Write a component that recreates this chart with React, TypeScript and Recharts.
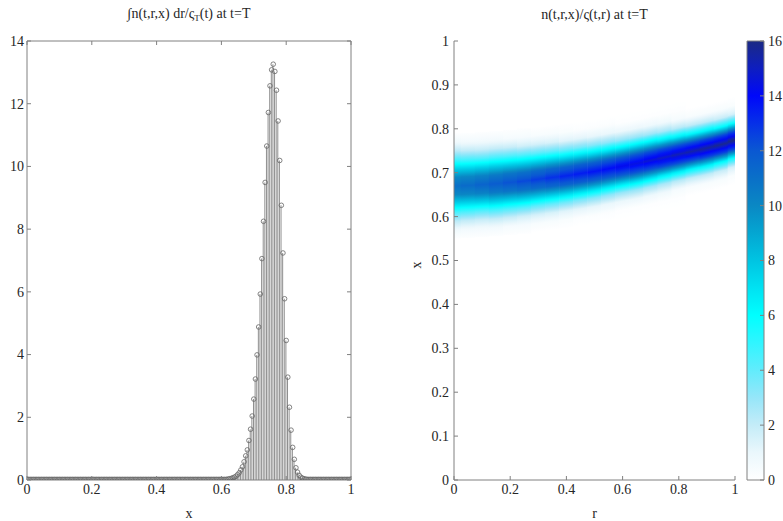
import React from 'react';
import { ComposedChart, XAxis, YAxis, Bar, Scatter, ReferenceArea } from 'recharts';

const W = 783;
const H = 521;
const FONT = '"Liberation Serif", "Times New Roman", Times, serif';
const FS = 14;
const TXT = '#262626';
const AX = '#808080';

// ---------------- left panel: stem plot ----------------
const stemStart = 0;
const stemStep = 0.005;
const stemValues: number[] = [
  0.02, 0.02, 0.02, 0.02, 0.02, 0.02, 0.02, 0.02, 0.02, 0.02, 0.02, 0.02, 0.02, 0.02, 0.02, 0.02, 0.02, 0.02, 0.02, 0.02,
  0.02, 0.02, 0.02, 0.02, 0.02, 0.02, 0.02, 0.02, 0.02, 0.02, 0.02, 0.02, 0.02, 0.02, 0.02, 0.02, 0.02, 0.02, 0.02, 0.02,
  0.02, 0.02, 0.02, 0.02, 0.02, 0.02, 0.02, 0.02, 0.02, 0.02, 0.02, 0.02, 0.02, 0.02, 0.02, 0.02, 0.02, 0.02, 0.02, 0.02,
  0.02, 0.02, 0.02, 0.02, 0.02, 0.02, 0.02, 0.02, 0.02, 0.02, 0.02, 0.02, 0.02, 0.02, 0.02, 0.02, 0.02, 0.02, 0.02, 0.02,
  0.02, 0.02, 0.02, 0.02, 0.02, 0.02, 0.02, 0.02, 0.02, 0.02, 0.02, 0.02, 0.02, 0.02, 0.02, 0.02, 0.02, 0.02, 0.02, 0.02,
  0.02, 0.02, 0.02, 0.02, 0.02, 0.02, 0.02, 0.02, 0.02, 0.02, 0.02, 0.02, 0.02, 0.02, 0.02, 0.02, 0.02, 0.02, 0.02, 0.02,
  0.02, 0.02, 0.02, 0.02,
  0.03, 0.04, 0.05, 0.07, 0.09, 0.12, 0.17, 0.23, 0.32, 0.42, 0.58, 0.77, 0.96, 1.26, 1.62, 2.04, 2.58, 3.22, 3.99, 4.88,
  5.93, 7.06, 8.25, 9.49, 10.65, 11.72, 12.57, 13.08, 13.26, 13.03, 12.43, 11.45, 10.19, 8.76, 7.24, 5.78, 4.45, 3.28,
  2.32, 1.59, 1.04, 0.66, 0.39, 0.25, 0.15, 0.09, 0.06, 0.04, 0.03,
  0.02, 0.02, 0.02, 0.02, 0.02, 0.02, 0.02, 0.02, 0.02, 0.02, 0.02, 0.02, 0.02, 0.02, 0.02, 0.02, 0.02, 0.02, 0.02, 0.02,
  0.02, 0.02, 0.02, 0.02, 0.02, 0.02, 0.02, 0.02,
];
const xTicks = [0, 0.2, 0.4, 0.6, 0.8, 1];
const leftYTicks = [0, 2, 4, 6, 8, 10, 12, 14];

// ---------------- right panel: heat map ----------------
const rightYTicks = [0, 0.1, 0.2, 0.3, 0.4, 0.5, 0.6, 0.7, 0.8, 0.9, 1];
const hmR = [0, 0.05, 0.1, 0.15, 0.2, 0.25, 0.3, 0.35, 0.4, 0.45, 0.5, 0.55, 0.6, 0.65, 0.7, 0.75, 0.8, 0.85, 0.9, 0.95, 1];
const hmCenter = [0.670, 0.671, 0.673, 0.675, 0.678, 0.681, 0.685, 0.689, 0.693, 0.698, 0.703, 0.709, 0.715, 0.721, 0.728, 0.735, 0.742, 0.749, 0.756, 0.764, 0.772];
const hmOffsets = [0, 0.02, 0.04, 0.06, 0.08, 0.10, 0.12];
const hmProfile: number[][] = [
  [11.0, 10.0, 7.4, 4.5, 2.2, 0.7, 0.1],
  [11.2, 10.1, 7.4, 4.4, 2.0, 0.6, 0.1],
  [11.5, 10.3, 7.5, 4.3, 1.9, 0.6, 0.1],
  [11.8, 10.6, 7.7, 4.5, 2.0, 0.6, 0.1],
  [12.1, 10.8, 7.7, 4.4, 1.9, 0.5, 0.1],
  [12.4, 11.0, 7.7, 4.3, 1.7, 0.5, 0.1],
  [12.7, 11.2, 7.7, 4.1, 1.6, 0.4, 0.0],
  [13.0, 11.4, 7.7, 4.0, 1.5, 0.4, 0.0],
  [13.3, 11.6, 7.6, 3.8, 1.3, 0.3, 0.0],
  [13.5, 11.7, 7.5, 3.6, 1.2, 0.2, 0.0],
  [13.7, 11.7, 7.4, 3.4, 1.1, 0.2, 0.0],
  [13.9, 11.8, 7.2, 3.2, 1.0, 0.2, 0.0],
  [14.2, 11.9, 7.1, 3.0, 0.9, 0.1, 0.0],
  [14.4, 12.1, 7.2, 3.0, 0.9, 0.1, 0.0],
  [14.7, 12.2, 7.1, 2.8, 0.8, 0.1, 0.0],
  [14.9, 12.3, 6.8, 2.6, 0.7, 0.1, 0.0],
  [15.2, 12.3, 6.6, 2.3, 0.5, 0.1, 0.0],
  [15.4, 12.3, 6.3, 2.1, 0.4, 0.0, 0.0],
  [15.6, 12.5, 6.4, 2.1, 0.4, 0.0, 0.0],
  [15.8, 12.5, 6.1, 1.9, 0.4, 0.0, 0.0],
  [16.0, 12.4, 5.8, 1.6, 0.3, 0.0, 0.0],
];

// ---------------- colour bar ----------------
const cbarTicks = [0, 2, 4, 6, 8, 10, 12, 14, 16];
const cmapLevels = [0, 1, 2, 3, 4, 5, 6, 7, 8, 9, 10, 11, 12, 13, 14, 15, 16];
const cmapColors = [
  '#ffffff', '#eaf7fc', '#c4ecf8', '#96e6f9', '#62ecfc', '#30f5ff', '#00ffff', '#00e2f2', '#00c4e2',
  '#04a6d2', '#0a88c4', '#0a70c8', '#0a58d2', '#0630e8', '#0008fa', '#0e1ec0', '#1b2a84',
];

// ---------------- geometry ----------------
const LEFT = { l: 27, r: 351, t: 41, b: 480 };
const RIGHT = { l: 454, r: 735, t: 41, b: 480 };
const CBAR = { l: 747, r: 764, t: 41, b: 480 };
// axes are 1px thick (an axis of size 0 is not drawn), so margins leave room for them
const marginOf = (g: { l: number; r: number; t: number; b: number }, sides: { l?: boolean; r?: boolean; t?: boolean; b?: boolean }) => ({
  top: g.t - (sides.t ? 1 : 0),
  left: g.l - (sides.l ? 1 : 0),
  right: W - g.r - (sides.r ? 1 : 0),
  bottom: H - g.b - (sides.b ? 1 : 0),
});

const stemData = stemValues.map((v, i) => ({ x: +(stemStart + i * stemStep).toFixed(4), v }));

// colour map helpers
const hexRgb = (h: string) => [parseInt(h.slice(1, 3), 16), parseInt(h.slice(3, 5), 16), parseInt(h.slice(5, 7), 16)];
const cmapRgb = cmapColors.map(hexRgb);
function cmap(v: number): string {
  const lo = cmapLevels[0];
  const hi = cmapLevels[cmapLevels.length - 1];
  const c = Math.max(lo, Math.min(hi, v));
  let i = 0;
  while (i < cmapLevels.length - 2 && c > cmapLevels[i + 1]) i++;
  const t = (c - cmapLevels[i]) / (cmapLevels[i + 1] - cmapLevels[i]);
  const a = cmapRgb[i];
  const b = cmapRgb[i + 1];
  const m = a.map((av, k) => Math.round(av + (b[k] - av) * t));
  return `rgb(${m[0]},${m[1]},${m[2]})`;
}

const maxOff = hmOffsets[hmOffsets.length - 1];
const colHalf = 0.026;
function columnStops(profile: number[]) {
  // from top (+maxOff) to bottom (-maxOff)
  const pts: { o: number; v: number }[] = [];
  for (let k = hmOffsets.length - 1; k >= 0; k--) pts.push({ o: hmOffsets[k], v: profile[k] });
  for (let k = 1; k < hmOffsets.length; k++) pts.push({ o: -hmOffsets[k], v: profile[k] });
  const stops: { t: number; c: string }[] = [];
  const SUB = 4;
  for (let j = 0; j < pts.length - 1; j++) {
    for (let s = 0; s < SUB; s++) {
      const f = s / SUB;
      const o = pts[j].o + (pts[j + 1].o - pts[j].o) * f;
      const v = pts[j].v + (pts[j + 1].v - pts[j].v) * f;
      stops.push({ t: (maxOff - o) / (2 * maxOff), c: cmap(v) });
    }
  }
  const last = pts[pts.length - 1];
  stops.push({ t: 1, c: cmap(last.v) });
  return stops;
}
// local slope of the band (dx/dr) so each column's gradient tilts with it
function bandSlope(i: number) {
  const a = Math.max(0, i - 1);
  const b = Math.min(hmR.length - 1, i + 1);
  return (hmCenter[b] - hmCenter[a]) / (hmR[b] - hmR[a]);
}
function columnBox(i: number) {
  const x1 = Math.max(0, hmR[i] - colHalf);
  const x2 = Math.min(1, hmR[i] + colHalf);
  return { x1, x2 };
}

type Side = 'bottom' | 'top' | 'left' | 'right';
const makeTick = (side: Side, showLabel: boolean, len = 4, gap = 4) => (props: any) => {
  const { x, y, payload } = props;
  const label = String(payload.value);
  const ls = { stroke: AX, strokeWidth: 1 };
  const ts = { fontFamily: FONT, fontSize: FS, fill: TXT };
  if (side === 'bottom') {
    return (
      <g>
        <line x1={x} x2={x} y1={y} y2={y - len} {...ls} />
        {showLabel && <text x={x} y={y + gap + FS * 0.72} textAnchor="middle" {...ts}>{label}</text>}
      </g>
    );
  }
  if (side === 'top') {
    return (
      <g>
        <line x1={x} x2={x} y1={y} y2={y + len} {...ls} />
      </g>
    );
  }
  if (side === 'left') {
    return (
      <g>
        <line x1={x} x2={x + len} y1={y} y2={y} {...ls} />
        {showLabel && <text x={x - gap} y={y + FS * 0.35} textAnchor="end" {...ts}>{label}</text>}
      </g>
    );
  }
  return (
    <g>
      <line x1={x} x2={x - len} y1={y} y2={y} {...ls} />
      {showLabel && <text x={x + gap} y={y + FS * 0.35} textAnchor="start" {...ts}>{label}</text>}
    </g>
  );
};

const axisCommon = {
  type: 'number' as const,
  tickLine: false,
  tickSize: 0,
  tickMargin: 0,
  interval: 0 as const,
  allowDataOverflow: true,
  axisLine: { stroke: AX, strokeWidth: 1 },
};

const StemCircle = (p: any) => (
  <circle cx={p.cx} cy={p.cy} r={2.3} fill="none" stroke="#666666" strokeWidth={0.8} />
);

const textBase: React.CSSProperties = {
  position: 'absolute',
  fontFamily: FONT,
  fontSize: FS,
  color: TXT,
  whiteSpace: 'nowrap',
  lineHeight: 1,
  transform: 'translate(-50%, -50%)',
};

export default function App() {
  const topLevel = cmapLevels[cmapLevels.length - 1];
  return (
    <div style={{ position: 'absolute', left: 0, top: 0, width: W, height: H, background: '#fff', overflow: 'hidden' }}>
      <svg width={0} height={0} style={{ position: 'absolute' }}>
        <defs>
          {hmProfile.map((prof, i) => {
            const { x1, x2 } = columnBox(i);
            // tilt in bounding-box units: iso-lines follow the band slope
            const vx = (bandSlope(i) * (x2 - x1)) / (2 * maxOff);
            return (
              <linearGradient key={i} id={`hm${i}`} x1={0.5 - vx / 2} y1="0" x2={0.5 + vx / 2} y2="1">
                {columnStops(prof).map((s, k) => (
                  <stop key={k} offset={s.t} stopColor={s.c} />
                ))}
              </linearGradient>
            );
          })}
          <linearGradient id="cbarGrad" x1="0" y1="0" x2="0" y2="1">
            {cmapLevels
              .map((lv, k) => ({ lv, c: cmapColors[k] }))
              .reverse()
              .map((s, k) => (
                <stop key={k} offset={(topLevel - s.lv) / topLevel} stopColor={s.c} />
              ))}
          </linearGradient>
        </defs>
      </svg>

      {/* left panel */}
      <div style={{ position: 'absolute', left: 0, top: 0 }}>
        <ComposedChart width={W} height={H} data={stemData} margin={marginOf(LEFT, { l: true, r: true, t: true, b: true })}>
          <XAxis {...axisCommon} dataKey="x" domain={[0, 1]} ticks={xTicks} height={1} tick={makeTick('bottom', true)} />
          <XAxis {...axisCommon} xAxisId="top" orientation="top" dataKey="x" domain={[0, 1]} ticks={xTicks} height={1} tick={makeTick('top', false)} />
          <YAxis {...axisCommon} domain={[0, 14]} ticks={leftYTicks} width={1} tick={makeTick('left', true, 4, 3)} />
          <YAxis {...axisCommon} yAxisId="right" orientation="right" domain={[0, 14]} ticks={leftYTicks} width={1} tick={makeTick('right', false)} />
          <Bar dataKey="v" barSize={1} fill="#8f8f8f" isAnimationActive={false} />
          <Scatter dataKey="v" shape={StemCircle} isAnimationActive={false} />
        </ComposedChart>
      </div>

      {/* right panel */}
      <div style={{ position: 'absolute', left: 0, top: 0 }}>
        <ComposedChart width={W} height={H} data={[{ x: 0, y: 0 }, { x: 1, y: 1 }]} margin={marginOf(RIGHT, { l: true, b: true })}>
          <XAxis {...axisCommon} dataKey="x" domain={[0, 1]} ticks={xTicks} height={1} tick={makeTick('bottom', true)} />
          <YAxis {...axisCommon} dataKey="y" domain={[0, 1]} ticks={rightYTicks} width={1} tick={makeTick('left', true, 4, 5)} />
          {hmR.map((r, i) => {
            const { x1, x2 } = columnBox(i);
            return (
              <ReferenceArea
                key={i}
                x1={x1}
                x2={x2}
                y1={hmCenter[i] - maxOff}
                y2={hmCenter[i] + maxOff}
                fill={`url(#hm${i})`}
                fillOpacity={1}
                stroke="none"
                ifOverflow="visible"
              />
            );
          })}
        </ComposedChart>
      </div>

      {/* colour bar */}
      <div style={{ position: 'absolute', left: 0, top: 0 }}>
        <ComposedChart width={W} height={H} data={[{ x: 0, y: 0 }, { x: 1, y: 16 }]} margin={marginOf(CBAR, { r: true })}>
          <XAxis {...axisCommon} dataKey="x" domain={[0, 1]} hide />
          <ReferenceArea x1={0} x2={1} y1={0} y2={16} fill="url(#cbarGrad)" fillOpacity={1} stroke={AX} strokeWidth={1} ifOverflow="visible" />
          <YAxis {...axisCommon} dataKey="y" orientation="right" domain={[0, 16]} ticks={cbarTicks} width={1} axisLine={false} tick={makeTick('right', true, 4, 4)} />
        </ComposedChart>
      </div>

      {/* titles and axis labels */}
      <div style={{ ...textBase, left: (LEFT.l + LEFT.r) / 2, top: 15 }}>
        ∫n(t,r,x) dr/ς<sub style={{ fontSize: 9, verticalAlign: '-3px' }}>T</sub>(t) at t=T
      </div>
      <div style={{ ...textBase, left: (RIGHT.l + RIGHT.r) / 2, top: 15 }}>n(t,r,x)/ς(t,r) at t=T</div>
      <div style={{ ...textBase, left: (LEFT.l + LEFT.r) / 2, top: 514 }}>x</div>
      <div style={{ ...textBase, left: (RIGHT.l + RIGHT.r) / 2, top: 514 }}>r</div>
      <div style={{ ...textBase, left: 417, top: 265, transform: 'translate(-50%, -50%) rotate(-90deg)' }}>x</div>
    </div>
  );
}
